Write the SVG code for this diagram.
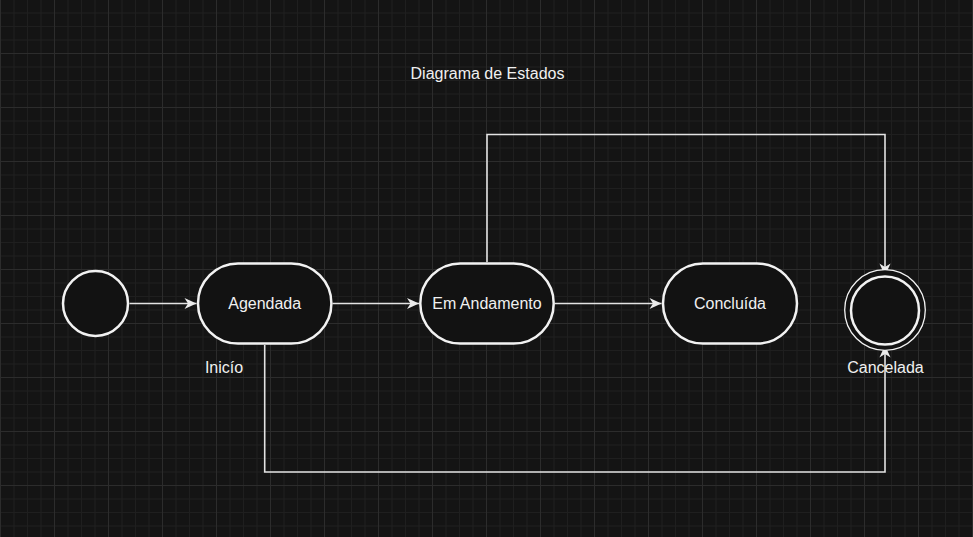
<svg xmlns="http://www.w3.org/2000/svg" width="973" height="537" viewBox="0 0 973 537">
  <defs>
    <pattern id="grid" patternUnits="userSpaceOnUse" x="0" y="-1" width="54" height="54">
      <rect width="54" height="54" fill="#141414"/>
      <path d="M14,0V54M27.5,0V54M41,0V54M0,14H54M0,27.5H54M0,41H54" stroke="#1f1f1f" stroke-width="1" fill="none"/>
      <path d="M0.5,0V54M0,0.5H54" stroke="#2c2c2c" stroke-width="1" fill="none"/>
    </pattern>
    <marker id="arrow" markerUnits="userSpaceOnUse" viewBox="-13 -7 14 14" refX="0" refY="0" markerWidth="14" markerHeight="14" orient="auto">
      <path d="M0,0 L-12,-5.6 L-8.5,0 L-12,5.6 Z" fill="#ebebeb" stroke="none"/>
    </marker>
    <style>
      .state { fill: #121212; stroke: #f2f2f2; stroke-width: 2.5; }
      .edge { fill: none; stroke: #e3e3e3; stroke-width: 1.6; marker-end: url(#arrow); }
      .label { font-family: "Liberation Sans", Arial, sans-serif; font-size: 16px; fill: #f0f0f0; text-anchor: middle; }
    </style>
  </defs>
  <rect width="973" height="537" fill="url(#grid)"/>

  <text class="label" x="487.5" y="79">Diagrama de Estados</text>

  <g id="connectors">
    <path class="edge" d="M129.5,303.5 H196.5"/>
    <path class="edge" d="M332.5,303.5 H419"/>
    <path class="edge" d="M555,303.5 H661.5"/>
    <path class="edge" d="M487,262 V134.5 H885 V275.5"/>
    <path class="edge" d="M264.7,345 V472 H885 V345.5"/>
  </g>

  <g id="inicio">
    <circle class="state" cx="95.5" cy="303.5" r="32.5"/>
    <text class="label" x="224" y="373">Inicío</text>
  </g>

  <g id="agendada">
    <rect class="state" x="198" y="263.5" width="133.4" height="80" rx="40" ry="40"/>
    <text class="label" x="264.7" y="309.3">Agendada</text>
  </g>

  <g id="em-andamento">
    <rect class="state" x="420.3" y="263.5" width="133.4" height="80" rx="40" ry="40"/>
    <text class="label" x="487" y="309.3">Em Andamento</text>
  </g>

  <g id="concluida">
    <rect class="state" x="663" y="263.5" width="134" height="80" rx="40" ry="40"/>
    <text class="label" x="730" y="309.3">Concluída</text>
  </g>

  <g id="cancelada">
    <circle cx="885" cy="310" r="40.3" fill="#121212" stroke="#f2f2f2" stroke-width="1.3"/>
    <circle class="state" cx="885" cy="310.5" r="34"/>
    <text class="label" x="885.5" y="373">Cancelada</text>
  </g>
</svg>
